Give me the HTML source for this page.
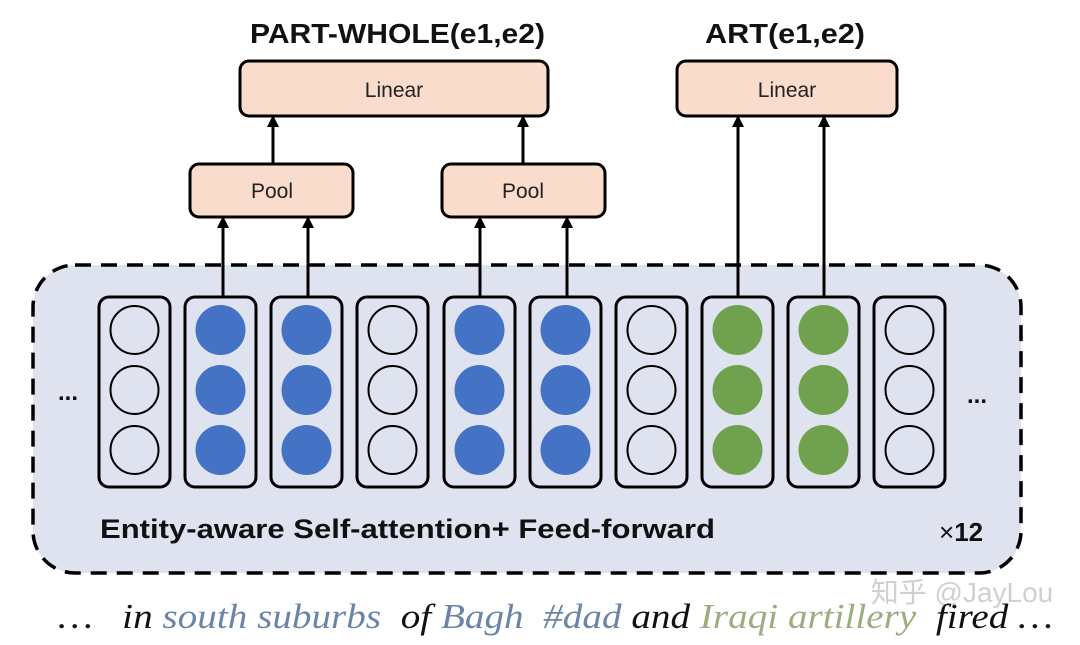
<!DOCTYPE html>
<html><head><meta charset="utf-8"><style>
html,body{margin:0;padding:0;background:#fff;}
text{white-space:pre;}
</style></head><body>
<svg width="1080" height="640" viewBox="0 0 1080 640" xmlns="http://www.w3.org/2000/svg" font-family="Liberation Sans, sans-serif">
<rect x="33" y="265" width="988" height="308" rx="42" fill="#dfe3ef" stroke="#000" stroke-width="3.5" stroke-dasharray="16,10"/>
<g stroke="#000" stroke-width="3">
<line x1="223" y1="297" x2="223" y2="226"/><line x1="308" y1="297" x2="308" y2="226"/>
<line x1="480" y1="297" x2="480" y2="226"/><line x1="567" y1="297" x2="567" y2="226"/>
<line x1="273" y1="163" x2="273" y2="125"/><line x1="523" y1="163" x2="523" y2="125"/>
<line x1="738" y1="297" x2="738" y2="125"/><line x1="824" y1="297" x2="824" y2="125"/>
</g>
<g fill="#000">
<path d="M217,228 L223,216 L229,228Z"/><path d="M302,228 L308,216 L314,228Z"/>
<path d="M474,228 L480,216 L486,228Z"/><path d="M561,228 L567,216 L573,228Z"/>
<path d="M267,127 L273,115 L279,127Z"/><path d="M517,127 L523,115 L529,127Z"/>
<path d="M732,127 L738,115 L744,127Z"/><path d="M818,127 L824,115 L830,127Z"/>
</g>
<g fill="#f9dccb" stroke="#000" stroke-width="3">
<rect x="240" y="61" width="308" height="55" rx="9"/>
<rect x="677" y="61" width="220" height="55" rx="9"/>
<rect x="190" y="164" width="163" height="53" rx="9"/>
<rect x="442" y="164" width="163" height="53" rx="9"/>
</g>
<g font-size="21" text-anchor="middle" fill="#222">
<text x="394" y="97">Linear</text><text x="787" y="97">Linear</text>
<text x="272" y="198">Pool</text><text x="523" y="198">Pool</text>
</g>
<g font-size="28" font-weight="bold" fill="#111">
<text x="250" y="43" textLength="295" lengthAdjust="spacingAndGlyphs">PART-WHOLE(e1,e2)</text>
<text x="705" y="43" textLength="160" lengthAdjust="spacingAndGlyphs">ART(e1,e2)</text>
</g>
<g stroke="#000" stroke-width="3" fill="none">
<rect x="99" y="297" width="71" height="190" rx="10"/>
<rect x="185" y="297" width="71" height="190" rx="10"/>
<rect x="271" y="297" width="71" height="190" rx="10"/>
<rect x="357" y="297" width="71" height="190" rx="10"/>
<rect x="444" y="297" width="71" height="190" rx="10"/>
<rect x="530" y="297" width="71" height="190" rx="10"/>
<rect x="616" y="297" width="71" height="190" rx="10"/>
<rect x="702" y="297" width="71" height="190" rx="10"/>
<rect x="788" y="297" width="71" height="190" rx="10"/>
<rect x="874" y="297" width="71" height="190" rx="10"/>
</g>
<g stroke="#000" stroke-width="2" fill="none">
<circle cx="134.5" cy="330" r="24"/><circle cx="134.5" cy="390" r="24"/><circle cx="134.5" cy="450" r="24"/>
<circle cx="392.5" cy="330" r="24"/><circle cx="392.5" cy="390" r="24"/><circle cx="392.5" cy="450" r="24"/>
<circle cx="651.5" cy="330" r="24"/><circle cx="651.5" cy="390" r="24"/><circle cx="651.5" cy="450" r="24"/>
<circle cx="909.5" cy="330" r="24"/><circle cx="909.5" cy="390" r="24"/><circle cx="909.5" cy="450" r="24"/>
</g>
<g fill="#4472c4">
<circle cx="220.5" cy="330" r="25"/><circle cx="220.5" cy="390" r="25"/><circle cx="220.5" cy="450" r="25"/>
<circle cx="306.5" cy="330" r="25"/><circle cx="306.5" cy="390" r="25"/><circle cx="306.5" cy="450" r="25"/>
<circle cx="479.5" cy="330" r="25"/><circle cx="479.5" cy="390" r="25"/><circle cx="479.5" cy="450" r="25"/>
<circle cx="565.5" cy="330" r="25"/><circle cx="565.5" cy="390" r="25"/><circle cx="565.5" cy="450" r="25"/>
</g>
<g fill="#70a14f">
<circle cx="737.5" cy="330" r="25"/><circle cx="737.5" cy="390" r="25"/><circle cx="737.5" cy="450" r="25"/>
<circle cx="823.5" cy="330" r="25"/><circle cx="823.5" cy="390" r="25"/><circle cx="823.5" cy="450" r="25"/>
</g>
<g font-weight="bold" fill="#111">
<text x="58" y="400" font-size="24">...</text>
<text x="967" y="403" font-size="24">...</text>
<text x="100" y="538" font-size="27" textLength="615" lengthAdjust="spacingAndGlyphs">Entity-aware Self-attention+ Feed-forward</text>
<text x="939" y="541" font-size="26"><tspan font-weight="normal">×</tspan>12</text>
</g>
<text x="962" y="602" font-size="28" fill="#d0d0d0" font-family="Liberation Sans, Noto Sans CJK SC, sans-serif" text-anchor="middle">知乎 @JayLou</text>
<text x="58" y="628" font-size="35" font-style="italic" font-family="Liberation Serif, serif" fill="#111" textLength="995" lengthAdjust="spacingAndGlyphs">…   in <tspan fill="#6a85a6">south suburbs</tspan>  of <tspan fill="#6a85a6">Bagh</tspan>  <tspan fill="#6a85a6">#dad</tspan> and <tspan fill="#9aae80">Iraqi artillery</tspan>  fired …</text>
</svg>
</body></html>
